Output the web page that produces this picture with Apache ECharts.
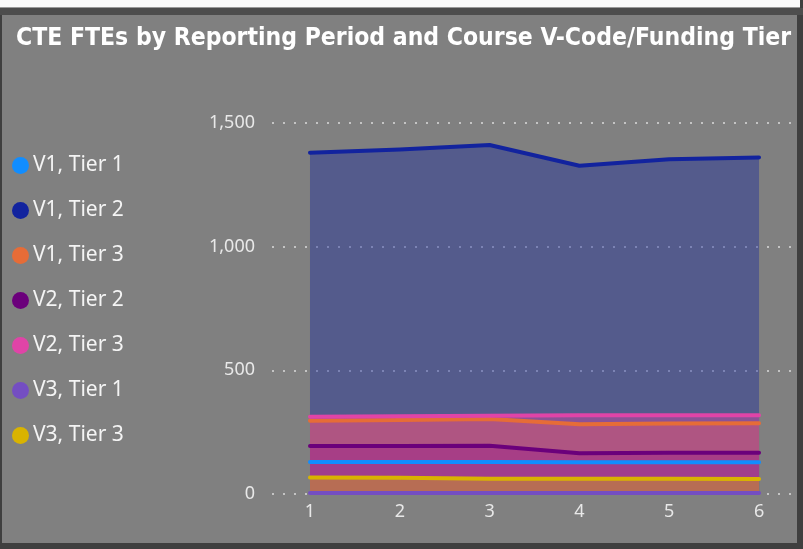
<!DOCTYPE html>
<html>
<head>
<meta charset="utf-8">
<script src="https://cdn.jsdelivr.net/npm/echarts@6/dist/echarts.min.js"></script>
<style>
  html, body { margin: 0; padding: 0; width: 803px; height: 549px; overflow: hidden; background: #3f3f3f; }
  #topStrip { position: absolute; left: 0; top: 0; width: 800px; height: 7px; background: #fbfbfb; border-bottom: 1px solid #9a9a9a; }
  #band { position: absolute; left: 0; top: 8px; width: 803px; height: 7px; background: #4d4d4d; }
  #panel { position: absolute; left: 2px; top: 15px; width: 795px; height: 528px; background: #808080; }
  #chart { position: absolute; left: 0; top: 0; width: 803px; height: 549px; }
</style>
</head>
<body>
<div id="topStrip"></div>
<div id="band"></div>
<div id="panel"></div>
<div id="chart"></div>
<script>
// Reporting periods on the x axis
const periods = [1, 2, 3, 4, 5, 6];
const yTicks = [0, 500, 1000, 1500];

// FTEs per reporting period for each V-code / funding tier
const v1Tier1 = [129, 129, 129, 128, 128, 128];
const v1Tier2 = [1380, 1393, 1411, 1327, 1353, 1361];
const v1Tier3 = [296, 299, 303, 282, 285, 286];
const v2Tier2 = [194, 194, 195, 165, 167, 167];
const v2Tier3 = [312, 314, 316, 318, 318, 318];
const v3Tier1 = [4, 4, 4, 4, 4, 4];
const v3Tier3 = [67, 66, 62, 62, 62, 61];

const seriesNames = ['V1, Tier 1', 'V1, Tier 2', 'V1, Tier 3', 'V2, Tier 2', 'V2, Tier 3', 'V3, Tier 1', 'V3, Tier 3'];
const seriesValues = [v1Tier1, v1Tier2, v1Tier3, v2Tier2, v2Tier3, v3Tier1, v3Tier3];
const seriesColors = ['#118DFF', '#12239E', '#E66C37', '#6B007B', '#E044A7', '#744EC2', '#D9B300'];

const toPoints = vals => periods.map((p, i) => [p, vals[i]]);
const uiFont = '"Noto Sans", "Open Sans", sans-serif';

// shaded areas first, outlines drawn above every area
const areaSeries = seriesNames.map((name, i) => ({
  name: name,
  type: 'line',
  z: 2,
  data: toPoints(seriesValues[i]),
  symbol: 'none',
  color: seriesColors[i],
  lineStyle: { width: 0 },
  areaStyle: { color: seriesColors[i], opacity: 0.4 },
  silent: true
}));
const lineSeries = seriesNames.map((name, i) => ({
  name: name,
  type: 'line',
  z: 3,
  data: toPoints(seriesValues[i]),
  symbol: 'none',
  color: seriesColors[i],
  lineStyle: { width: 4, color: seriesColors[i], cap: 'round', join: 'round' }
}));

const chart = echarts.init(document.getElementById('chart'), null, { renderer: 'canvas' });
chart.setOption({
  backgroundColor: 'transparent',
  animation: false,
  title: {
    text: 'CTE FTEs by Reporting Period and Course V-Code/Funding Tier',
    left: 11,
    top: 21,
    textStyle: {
      color: '#ffffff',
      fontFamily: '"DejaVu Sans Condensed", "Liberation Sans Narrow", sans-serif',
      fontWeight: 'bold',
      fontSize: 24.5
    }
  },
  legend: {
    orient: 'vertical',
    left: 12,
    top: 155,
    padding: 0,
    icon: 'circle',
    itemWidth: 17,
    itemHeight: 17,
    itemGap: 24,
    data: seriesNames,
    textStyle: {
      color: '#f4f4f4',
      fontFamily: uiFont,
      fontSize: 21,
      lineHeight: 19,
      padding: [0, 0, 0, -1]
    }
  },
  grid: { left: 272, right: 11, top: 123, bottom: 55, containLabel: false },
  xAxis: {
    type: 'value',
    min: 0.577,
    max: 6.367,
    axisLine: { show: false },
    axisTick: { show: false },
    splitLine: { show: false },
    axisLabel: {
      customValues: periods,
      color: '#e8e8e8',
      fontFamily: uiFont,
      fontSize: 18,
      margin: 9,
      formatter: v => String(v)
    }
  },
  yAxis: {
    type: 'value',
    min: 0,
    max: 1500,
    interval: 500,
    axisLine: { show: false },
    axisTick: { show: false },
    axisLabel: {
      color: '#e8e8e8',
      fontFamily: uiFont,
      fontSize: 18,
      margin: 17,
      formatter: v => yTicks.includes(v) ? v.toLocaleString('en-US') : ''
    },
    splitLine: {
      show: true,
      lineStyle: { color: '#c4c4c4', width: 2, type: [2, 9] }
    }
  },
  series: areaSeries.concat(lineSeries)
});
</script>
</body>
</html>
